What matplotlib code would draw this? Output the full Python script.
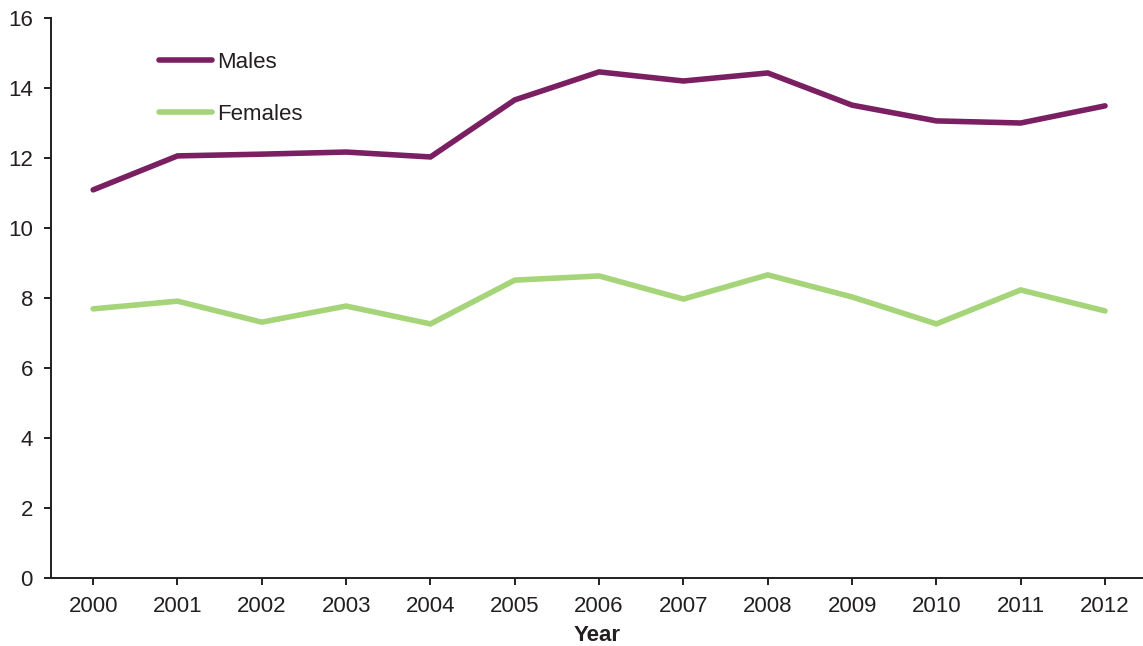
import matplotlib
matplotlib.use("Agg")
import matplotlib.pyplot as plt

plt.rcParams['font.family'] = ['Liberation Sans', 'DejaVu Sans']

years = [2000, 2001, 2002, 2003, 2004, 2005, 2006, 2007, 2008, 2009, 2010, 2011, 2012]
males = [11.09, 12.06, 12.11, 12.17, 12.03, 13.66, 14.46, 14.2, 14.43, 13.51, 13.06, 13.0, 13.49]
females = [7.69, 7.91, 7.31, 7.77, 7.26, 8.51, 8.63, 7.97, 8.66, 8.03, 7.26, 8.23, 7.63]
yticks = [0, 2, 4, 6, 8, 10, 12, 14, 16]

W, H = 1143, 646
fig = plt.figure(figsize=(W / 100, H / 100), dpi=100)
ax = fig.add_axes([51 / W, 1 - 578 / H, (1143 - 51) / W, (578 - 18) / H])

ax.plot(years, males, color='#7A1F62', lw=4, label='Males', solid_capstyle='round', solid_joinstyle='miter')
ax.plot(years, females, color='#A5D479', lw=4, label='Females', solid_capstyle='round', solid_joinstyle='miter')

ax.set_xlim(1999.5, 2012.45)
ax.set_ylim(0, 16)
ax.set_xticks(years)
ax.set_xticklabels([str(y) for y in years])
ax.set_yticks(yticks)
for s in ['top', 'right']:
    ax.spines[s].set_visible(False)
for s in ['left', 'bottom']:
    ax.spines[s].set_color('#231F20')
    ax.spines[s].set_linewidth(1.4)
ax.tick_params(axis='both', direction='out', length=5, width=1.4, color='#231F20',
               labelsize=16, labelcolor='#231F20')
ax.tick_params(axis='x', pad=8)
ax.tick_params(axis='y', pad=8)
ax.set_xlabel('Year', fontsize=16, fontweight='bold', color='#231F20', labelpad=6)

leg = ax.legend(loc='upper left', bbox_to_anchor=(139 / W, 1 - 32 / H), bbox_transform=fig.transFigure,
                frameon=False, fontsize=16, handlelength=2.4, handletextpad=0.2, labelspacing=1.4)
for t in leg.get_texts():
    t.set_color('#231F20')

fig.savefig('out.png', dpi=100)
